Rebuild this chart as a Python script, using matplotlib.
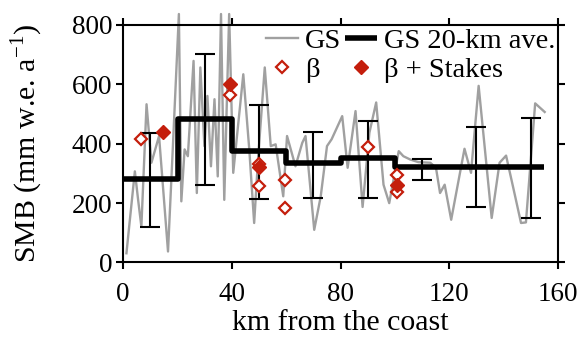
import numpy as np
import matplotlib as mpl
mpl.use("Agg")
import matplotlib.pyplot as plt

plt.rcParams["font.family"] = ["Liberation Serif", "DejaVu Serif"]
plt.rcParams["mathtext.fontset"] = "custom"
plt.rcParams["mathtext.rm"] = "Liberation Serif"

# GS profile (km, mm w.e./a)
gs_km = [1.2, 4.3, 5.5, 6.7, 8.6, 10.4, 13.2, 16.5, 18.3, 20.5, 21.4, 22.6, 23.8,
         25.9, 27.1, 28.4, 29.9, 31.0, 32.3, 33.6, 34.8, 36.0, 37.2, 39.0, 40.5,
         44.2, 46.4, 48.2, 49.7, 52.1, 54.3, 56.1, 58.9, 60.3, 63.4, 65.9, 67.1,
         70.3, 72.7, 75.0, 76.7, 80.6, 82.6, 85.5, 88.1, 90.6, 93.1, 95.8, 97.9,
         101.4, 103.1, 105.6, 108.6, 113.0, 115.1, 116.6, 118.3, 120.7, 125.6,
         128.0, 130.8, 135.6, 138.5, 140.9, 143.7, 146.4, 148.2, 151.6, 155.1]
gs_smb = [31, 307, 211, 121, 533, 336, 426, 37, 392, 837, 206, 381, 358,
          679, 234, 657, 392, 561, 324, 550, 290, 837, 211, 837, 302,
          634, 381, 133, 358, 657, 392, 398, 223, 426, 324, 403, 426,
          110, 223, 392, 415, 493, 319, 510, 187, 437, 539, 262, 200,
          375, 358, 347, 338, 336, 319, 234, 262, 144, 383,
          302, 595, 150, 336, 360, 245, 133, 135, 536, 507]

# 20-km averages
ave_edges = [0, 20, 40, 60, 80, 100, 155]
ave_smb = [282, 482, 377, 336, 352, 321]

# error bars
err_km = [10, 30, 50, 70, 90, 110, 130, 150]
err_mid = [282, 482, 377, 336, 352, 321, 321, 321]
err_lo = [120, 261, 214, 217, 217, 279, 187, 150]
err_hi = [437, 702, 531, 440, 476, 349, 456, 488]

# beta estimates
beta_km = [6.6, 39.2, 49.8, 49.8, 59.6, 59.6, 90.0, 100.6, 100.6]
beta_smb = [416, 565, 331, 259, 277, 185, 390, 295, 238]
stakes_km = [14.5, 39.2, 49.8, 100.6]
stakes_smb = [438, 600, 320, 261]

red = "#c41e0c"

fig = plt.figure(figsize=(5.81, 3.40), dpi=100)
ax = fig.add_axes([0.212, 0.228, 0.9604 - 0.212, 0.9265 - 0.228])

l_gs, = ax.plot(gs_km, gs_smb, color="#a0a0a0", lw=1.7, clip_on=False, zorder=2)
l_ave, = ax.step(ave_edges, ave_smb + [ave_smb[-1]], where="post", color="black",
                 lw=4, solid_capstyle="butt", zorder=3)
yerr = [np.array(err_mid) - np.array(err_lo), np.array(err_hi) - np.array(err_mid)]
ax.errorbar(err_km, err_mid, yerr=yerr, fmt="none", ecolor="black", elinewidth=1.5,
            capsize=7, capthick=1.5, zorder=4)
l_beta, = ax.plot(beta_km, beta_smb, "D", ls="none", ms=6, mfc="white", mec=red,
                  mew=1.6, zorder=5)
l_stk, = ax.plot(stakes_km, stakes_smb, "D", ls="none", ms=7.5, mfc=red, mec=red,
                 zorder=5)

ax.set_xlim(0, 160)
ax.set_ylim(0, 800)
ax.set_xticks([0, 40, 80, 120, 160])
ax.set_yticks([0, 200, 400, 600, 800])
ax.tick_params(direction="out", length=5, width=1.5, labelsize=19.5,
               top=True, right=True, pad=3)
ax.tick_params(axis="x", pad=9)
for s in ax.spines.values():
    s.set_linewidth(1.5)

ax.set_xlabel("km from the coast", fontsize=21.5, labelpad=2)
ax.set_ylabel("SMB (mm w.e. a$^{\\mathregular{-1}}$)", fontsize=21.5, labelpad=19)

# column-major order so rows read GS / GS 20-km ave., then β / β + Stakes
ax.legend([l_gs, l_beta, l_ave, l_stk], ["GS", "β", "GS 20-km ave.", "β + Stakes"],
          ncol=2, loc="upper right", frameon=False, fontsize=20.5,
          handlelength=1.1, handletextpad=0.25, columnspacing=0.15,
          labelspacing=0.1, borderaxespad=0.0, borderpad=0.1, numpoints=1)

plt.savefig("out.png", dpi=100)
